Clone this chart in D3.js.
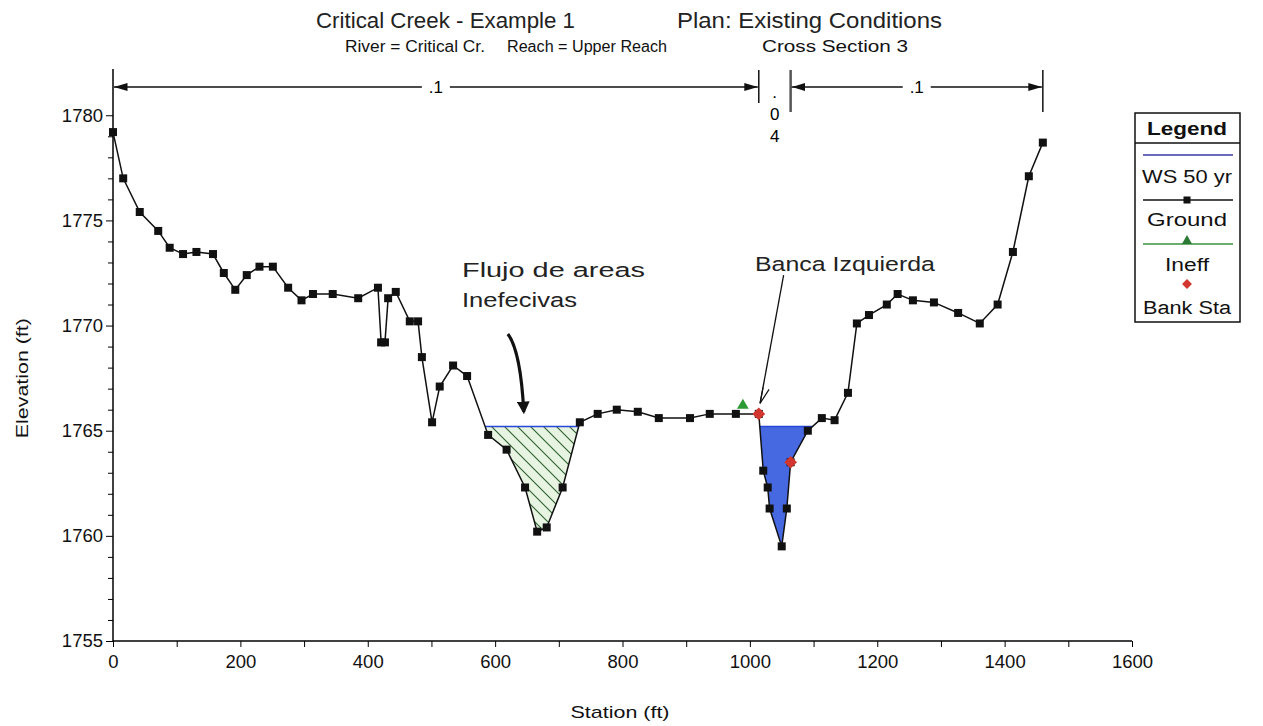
<!DOCTYPE html>
<html>
<head>
<meta charset="utf-8">
<script src="https://cdn.jsdelivr.net/npm/d3@7"></script>
<style>
  body { margin: 0; background: #fff; }
  svg { font-family: "Liberation Sans", Arial, sans-serif; }
</style>
</head>
<body>
<div id="chart"></div>
<script>
// Ground profile (station ft, elevation ft)
const groundSta = [0, 16, 42, 71, 89, 110, 131, 157, 174, 192, 210, 230, 251, 275, 296, 314, 345, 385,
  416, 421, 427, 432, 444, 466, 479, 485, 501, 513, 534, 556, 589, 618, 647, 666, 681, 706, 733,
  761, 791, 824, 857, 906, 937, 978, 1014, 1021, 1028, 1031, 1050, 1058, 1064, 1091, 1113, 1133,
  1154, 1168, 1187, 1215, 1232, 1256, 1289, 1327, 1361, 1389, 1413, 1438, 1460];
const groundElev = [1779.2, 1777.0, 1775.4, 1774.5, 1773.7, 1773.4, 1773.5, 1773.4, 1772.5, 1771.7, 1772.4, 1772.8, 1772.8, 1771.8, 1771.2, 1771.5, 1771.5, 1771.3,
  1771.8, 1769.2, 1769.2, 1771.3, 1771.6, 1770.2, 1770.2, 1768.5, 1765.4, 1767.1, 1768.1, 1767.6, 1764.8, 1764.1, 1762.3, 1760.2, 1760.4, 1762.3, 1765.4,
  1765.8, 1766.0, 1765.9, 1765.6, 1765.6, 1765.8, 1765.8, 1765.8, 1763.1, 1762.3, 1761.3, 1759.5, 1761.3, 1763.5, 1765.0, 1765.6, 1765.5,
  1766.8, 1770.1, 1770.5, 1771.0, 1771.5, 1771.2, 1771.1, 1770.6, 1770.1, 1771.0, 1773.5, 1777.1, 1778.7];

const wsElev = 1765.2;                 // WS 50 yr
const bankSta = [1014, 1064];
const bankElev = [1765.8, 1763.5];
const ineffSta = [989];
const ineffElev = [1766.2];

// Manning's n regions
const nBreaks = [0, 1014, 1064, 1460];
const nValues = [".1", ".04", ".1"];

const xTicks = d3.range(0, 1601, 100);
const yTicks = d3.range(1755, 1781, 1);

const W = 1263, H = 726;
const xScale = d3.scaleLinear().domain([0, 1600]).range([113, 1132]);
const yScale = d3.scaleLinear().domain([1755, 1782.2]).range([641, 69]);

const svg = d3.select("#chart").append("svg").attr("width", W).attr("height", H);

// wide text helper (reference fonts are stretched horizontally)
function label(g, x, y, str, size, len, opts = {}) {
  const t = g.append("text").attr("x", x).attr("y", y).attr("font-size", size)
    .attr("fill", opts.fill || "#222").attr("text-anchor", opts.anchor || "start")
    .attr("textLength", len).attr("lengthAdjust", "spacingAndGlyphs").text(str);
  if (opts.bold) t.attr("font-weight", "bold");
  return t;
}

// hatch pattern for ineffective flow
const defs = svg.append("defs");
const pat = defs.append("pattern").attr("id", "hatch")
  .attr("patternUnits", "userSpaceOnUse").attr("width", 13).attr("height", 13);
pat.append("rect").attr("width", 13).attr("height", 13).attr("fill", "#e6f4e1");
pat.append("path").attr("d", "M0,0 L13,13 M-2,11 L2,15 M11,-2 L15,2")
  .attr("stroke", "#2f5f2f").attr("stroke-width", 1.1);

// Titles
label(svg, 316, 28, "Critical Creek - Example 1", 22, 259);
label(svg, 677, 28, "Plan: Existing Conditions", 22, 265);
label(svg, 345, 52, "River = Critical Cr.", 16, 140, { fill: "#111" });
label(svg, 507, 52, "Reach = Upper Reach", 16, 160, { fill: "#111" });
label(svg, 762, 52, "Cross Section 3", 16, 146, { fill: "#111" });

// Axes
const xAxis = d3.axisBottom(xScale).tickValues(xTicks).tickSize(6)
  .tickFormat(d => d % 200 === 0 ? d : "");
const gx = svg.append("g").attr("transform", `translate(0, ${yScale(1755)})`).call(xAxis);
gx.select(".domain").attr("d", `M${xScale(0)},0H${xScale(1600)}`).attr("stroke-width", 1.5);
gx.selectAll("text").attr("font-size", 18.5).attr("dy", "0.95em").attr("fill", "#111");

const yAxis = d3.axisLeft(yScale).tickValues(yTicks)
  .tickFormat(d => d % 5 === 0 ? d : "");
const gy = svg.append("g").attr("transform", `translate(${xScale(0)}, 0)`).call(yAxis);
gy.select(".domain").attr("d", `M0,${yScale(1782.2)}V${yScale(1755)}`).attr("stroke-width", 1.5);
gy.selectAll(".tick line").attr("x2", d => d % 5 === 0 ? -7 : -5);
gy.selectAll("text").attr("font-size", 18.5).attr("x", -10).attr("fill", "#111");

label(svg, 620, 718, "Station (ft)", 17, 99, { anchor: "middle", fill: "#111" });
label(svg.append("g").attr("transform", `translate(28, ${yScale(1767.5)}) rotate(-90)`),
  0, 0, "Elevation (ft)", 17, 120, { anchor: "middle", fill: "#111" });

// Water areas: split ground where it's below WS
const pts = groundSta.map((s, i) => ({ s, e: groundElev[i] }));
const polys = [];
let cur = null;
for (let i = 0; i < pts.length; i++) {
  const p = pts[i];
  if (p.e < wsElev) {
    if (!cur) {
      const q = pts[i - 1];
      const t = (q.e - wsElev) / (q.e - p.e);
      cur = [{ s: q.s + t * (p.s - q.s), e: wsElev }];
    }
    cur.push(p);
  } else if (cur) {
    const q = pts[i - 1];
    const t = (wsElev - q.e) / (p.e - q.e);
    cur.push({ s: q.s + t * (p.s - q.s), e: wsElev });
    polys.push(cur);
    cur = null;
  }
}
const area = d3.line().x(d => xScale(d.s)).y(d => yScale(d.e));
polys.forEach(poly => {
  const ineff = poly[0].s < ineffSta[0];
  svg.append("path").attr("d", area(poly) + "Z")
    .attr("fill", ineff ? "url(#hatch)" : "#4668e0").attr("stroke", "none");
  svg.append("line")
    .attr("x1", xScale(poly[0].s)).attr("x2", xScale(poly[poly.length - 1].s))
    .attr("y1", yScale(wsElev)).attr("y2", yScale(wsElev))
    .attr("stroke", "#2846d8").attr("stroke-width", 1.6);
});

// Ground line + markers
svg.append("path").datum(pts).attr("d", area).attr("fill", "none")
  .attr("stroke", "#111").attr("stroke-width", 1.5);
svg.selectAll(".gpt").data(pts).enter().append("rect").attr("class", "gpt")
  .attr("x", d => xScale(d.s) - 4).attr("y", d => yScale(d.e) - 4)
  .attr("width", 8).attr("height", 8).attr("fill", "#111");

// Ineff triangle
svg.selectAll(".ineff").data(ineffSta).enter().append("path").attr("class", "ineff")
  .attr("d", d3.symbol(d3.symbolTriangle, 60))
  .attr("transform", (d, i) => `translate(${xScale(d)}, ${yScale(ineffElev[i])})`)
  .attr("fill", "#2c9a35");

// Bank stations
svg.selectAll(".bank").data(bankSta).enter().append("rect").attr("class", "bank")
  .attr("x", -4.5).attr("y", -4.5).attr("width", 9).attr("height", 9)
  .attr("transform", (d, i) => `translate(${xScale(d)}, ${yScale(bankElev[i])}) rotate(45)`)
  .attr("fill", "#d2372f");

// Manning's n bars
const nY = 87;
nBreaks.slice(1).forEach((s, i) => {
  svg.append("line").attr("x1", xScale(s)).attr("x2", xScale(s))
    .attr("y1", 70).attr("y2", i === 0 ? 103 : 112)
    .attr("stroke", i === 1 ? "#555" : "#111").attr("stroke-width", i === 1 ? 2.5 : 1.5);
});
defs.append("marker").attr("id", "ah").attr("viewBox", "0 0 10 10")
  .attr("refX", 10).attr("refY", 5).attr("markerWidth", 9).attr("markerHeight", 9)
  .attr("orient", "auto-start-reverse")
  .append("path").attr("d", "M0,2 L10,5 L0,8 Z").attr("fill", "#111");
nValues.forEach((v, i) => {
  const a = xScale(nBreaks[i]), b = xScale(nBreaks[i + 1]);
  const mid = (a + b) / 2;
  if (b - a > 60) {
    svg.append("line").attr("x1", a + 1).attr("x2", mid - 14).attr("y1", nY).attr("y2", nY)
      .attr("stroke", "#111").attr("stroke-width", 1.5).attr("marker-start", "url(#ah)");
    svg.append("line").attr("x1", mid + 14).attr("x2", b - 1).attr("y1", nY).attr("y2", nY)
      .attr("stroke", "#111").attr("stroke-width", 1.5).attr("marker-end", "url(#ah)");
    svg.append("text").attr("x", mid).attr("y", nY + 6).attr("text-anchor", "middle")
      .attr("font-size", 17).text(v);
  } else {
    const t = svg.append("text").attr("text-anchor", "middle").attr("font-size", 17);
    [".", "0", "4"].forEach((c, k) => {
      t.append("tspan").attr("x", mid).attr("y", [98, 120, 142][k]).text(c);
    });
  }
});

// Annotations
label(svg, xScale(548), yScale(1772.3), "Flujo de areas", 20.5, 183);
label(svg, xScale(548), yScale(1770.9), "Inefecivas", 20.5, 115);
defs.append("marker").attr("id", "ah2").attr("viewBox", "0 0 10 10")
  .attr("refX", 8).attr("refY", 5).attr("markerWidth", 4).attr("markerHeight", 4)
  .attr("orient", "auto")
  .append("path").attr("d", "M0,0 L10,5 L0,10 Z").attr("fill", "#111");
svg.append("path")
  .attr("d", `M${xScale(620)},${yScale(1769.6)} Q${xScale(640)},${yScale(1768.8)} ${xScale(645)},${yScale(1765.9)}`)
  .attr("fill", "none").attr("stroke", "#111").attr("stroke-width", 3.2).attr("marker-end", "url(#ah2)");

label(svg, xScale(1008), yScale(1772.6), "Banca Izquierda", 20.5, 180);
const bx1 = xScale(1053), by1 = yScale(1772.4), bx2 = xScale(1016), by2 = yScale(1766.3);
svg.append("line").attr("x1", bx1).attr("y1", by1).attr("x2", bx2).attr("y2", by2)
  .attr("stroke", "#111").attr("stroke-width", 1.3);
svg.append("path")
  .attr("d", `M${bx2 + 3},${by2 - 16} L${bx2},${by2} L${bx2 + 9},${by2 - 14}`)
  .attr("fill", "none").attr("stroke", "#111").attr("stroke-width", 1.2);

// Legend
const lg = svg.append("g").attr("transform", "translate(1135, 113)");
lg.append("rect").attr("width", 105).attr("height", 209).attr("fill", "#fff")
  .attr("stroke", "#111").attr("stroke-width", 1.5);
lg.append("line").attr("x1", 0).attr("x2", 105).attr("y1", 30).attr("y2", 30)
  .attr("stroke", "#111").attr("stroke-width", 1.5);
const lgMid = 52;
label(lg, lgMid, 22, "Legend", 19, 80, { anchor: "middle", bold: true, fill: "#111" });
lg.append("line").attr("x1", 8).attr("x2", 98).attr("y1", 42).attr("y2", 42)
  .attr("stroke", "#3a3aa8").attr("stroke-width", 1.5);
label(lg, lgMid, 70, "WS 50 yr", 18, 90, { anchor: "middle", fill: "#111" });
lg.append("line").attr("x1", 8).attr("x2", 98).attr("y1", 87).attr("y2", 87)
  .attr("stroke", "#111").attr("stroke-width", 1.5);
lg.append("rect").attr("x", lgMid - 3.5).attr("y", 83.5).attr("width", 7).attr("height", 7).attr("fill", "#111");
label(lg, lgMid, 113, "Ground", 18, 80, { anchor: "middle", fill: "#111" });
lg.append("line").attr("x1", 8).attr("x2", 98).attr("y1", 131).attr("y2", 131)
  .attr("stroke", "#6cae6c").attr("stroke-width", 2);
lg.append("path").attr("d", d3.symbol(d3.symbolTriangle, 45))
  .attr("transform", `translate(${lgMid}, 128)`).attr("fill", "#2c7a35");
label(lg, lgMid, 158, "Ineff", 18, 44, { anchor: "middle", fill: "#111" });
lg.append("rect").attr("x", -3.5).attr("y", -3.5).attr("width", 7).attr("height", 7)
  .attr("transform", `translate(${lgMid}, 171) rotate(45)`).attr("fill", "#d2372f");
label(lg, lgMid, 201, "Bank Sta", 18, 88, { anchor: "middle", fill: "#111" });
</script>
</body>
</html>
